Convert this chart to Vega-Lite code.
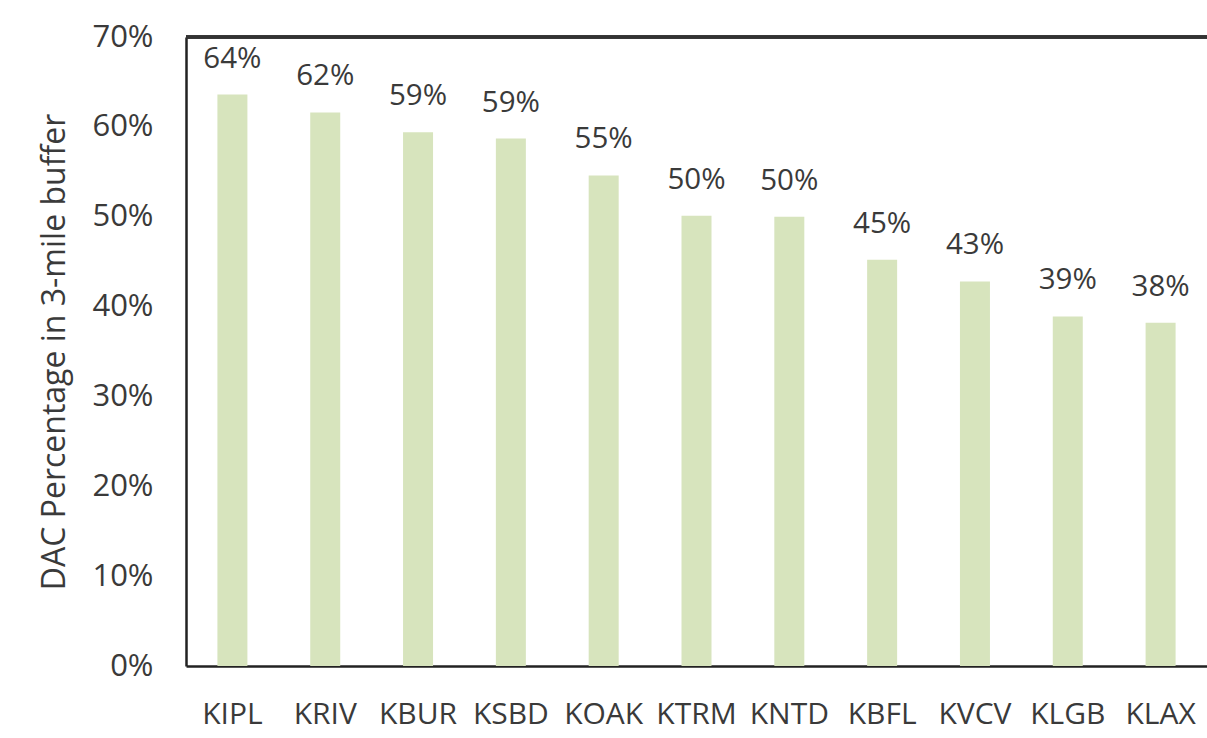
{
  "$schema": "https://vega.github.io/schema/vega-lite/v6.json",
  "autosize": {"type": "none"},
  "padding": {"left": 186, "top": 37, "right": 0, "bottom": 72},
  "width": 1021,
  "height": 629,
  "background": "#ffffff",
  "config": {
    "view": {"stroke": null},
    "font": "Open Sans"
  },
  "data": {
    "values": [
      {"airport": "KIPL", "pct": 0.636},
      {"airport": "KRIV", "pct": 0.616},
      {"airport": "KBUR", "pct": 0.594},
      {"airport": "KSBD", "pct": 0.587},
      {"airport": "KOAK", "pct": 0.546},
      {"airport": "KTRM", "pct": 0.501},
      {"airport": "KNTD", "pct": 0.500},
      {"airport": "KBFL", "pct": 0.452},
      {"airport": "KVCV", "pct": 0.428},
      {"airport": "KLGB", "pct": 0.389},
      {"airport": "KLAX", "pct": 0.382}
    ]
  },
  "encoding": {
    "x": {
      "field": "airport",
      "type": "nominal",
      "sort": null,
      "scale": {"paddingInner": 0, "paddingOuter": 0},
      "axis": {
        "title": null,
        "labelAngle": 0,
        "labelFont": "Open Sans",
        "labelFontSize": 30,
        "labelColor": "#3a3a3a",
        "labelPadding": 33,
        "ticks": false,
        "domain": true,
        "domainColor": "#222222",
        "domainWidth": 2.5
      }
    },
    "y": {
      "field": "pct",
      "type": "quantitative",
      "scale": {"domain": [0, 0.7], "nice": false},
      "axis": {
        "title": "DAC Percentage in 3-mile buffer",
        "titleFont": "Open Sans",
        "titleFontSize": 32,
        "titleFontWeight": "normal",
        "titleColor": "#3a3a3a",
        "titlePadding": 20,
        "values": [0, 0.1, 0.2, 0.3, 0.4, 0.5, 0.6, 0.7],
        "format": ".0%",
        "labelFont": "Open Sans",
        "labelFontSize": 31,
        "labelColor": "#3a3a3a",
        "labelPadding": 33,
        "ticks": false,
        "grid": false,
        "domain": true,
        "domainColor": "#222222",
        "domainWidth": 2.5
      }
    }
  },
  "layer": [
    {
      "mark": {"type": "bar", "size": 30, "color": "#d7e4bd"}
    },
    {
      "mark": {
        "type": "text",
        "baseline": "alphabetic",
        "dy": -27,
        "font": "Open Sans",
        "fontSize": 29.5,
        "color": "#3a3a3a"
      },
      "encoding": {
        "text": {"field": "pct", "type": "quantitative", "format": ".0%"}
      }
    },
    {
      "mark": {"type": "rule", "color": "#333333", "strokeWidth": 2.5},
      "encoding": {
        "y": {"datum": 0.7},
        "x": null
      }
    }
  ]
}
